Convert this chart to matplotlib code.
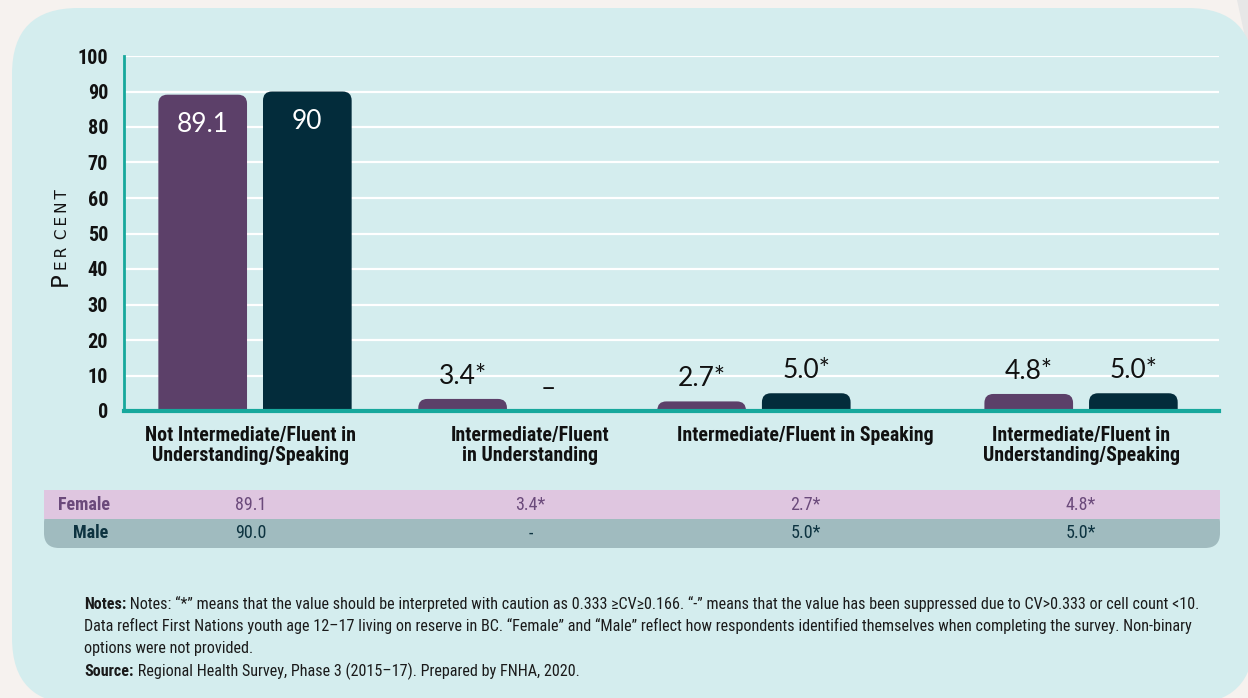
import os
import numpy as np
import matplotlib
matplotlib.use("Agg")
import matplotlib.pyplot as plt
import matplotlib.font_manager as fm
from matplotlib.patches import FancyBboxPatch, Rectangle, Polygon
from matplotlib.transforms import IdentityTransform

# ---------------- data ----------------
categories = [
    "Not Intermediate/Fluent in\nUnderstanding/Speaking",
    "Intermediate/Fluent\nin Understanding",
    "Intermediate/Fluent in Speaking",
    "Intermediate/Fluent in\nUnderstanding/Speaking",
]
female = [89.1, 3.4, 2.7, 4.8]
male = [90.0, np.nan, 5.0, 5.0]
female_bar_labels = ["89.1", "3.4*", "2.7*", "4.8*"]
male_bar_labels = ["90", "\u2013", "5.0*", "5.0*"]
table_female = ["89.1", "3.4*", "2.7*", "4.8*"]
table_male = ["90.0", "-", "5.0*", "5.0*"]
yticks = list(range(0, 101, 10))

# ---------------- fonts ----------------
files = {os.path.basename(f.fname).lower(): f.fname for f in fm.fontManager.ttflist}


def pick(cands):
    for c in cands:
        for k, v in files.items():
            if k.startswith(c.lower()):
                return v
    return None


reg_file = pick(["LiberationSansNarrow-Regular", "RobotoCondensed-Regular", "NotoSans-Condensed.",
                 "NotoSans-CondensedRegular", "OpenSans_Condensed-Regular", "OpenSansCondensed-Regular",
                 "DejaVuSansCondensed."])
bold_file = pick(["LiberationSansNarrow-Bold.", "RobotoCondensed-Bold.", "NotoSans-CondensedBold.",
                  "OpenSans_Condensed-Bold.", "OpenSansCondensed-Bold.", "DejaVuSansCondensed-Bold."])
SC = 1.0
if reg_file is None or bold_file is None:
    SC = 0.86


def nfont(size, bold=False):
    f = bold_file if bold else reg_file
    if f is not None:
        return fm.FontProperties(fname=f, size=size * SC)
    return fm.FontProperties(family=["Roboto", "DejaVu Sans"], size=size * SC,
                             weight="bold" if bold else "normal")


# ---------------- style ----------------
W, H = 1248, 698
BG = "#f6f2ef"
PANEL = "#d4edee"
FEM = "#5c4069"
MAL = "#032c3b"
TEAL = "#17a89c"
FEM_ROW = "#dfc6e0"
MAL_ROW = "#a0bbbf"
FEM_TXT = "#6b4a7b"
MAL_TXT = "#0d3340"
GEO = ["Lato", "DejaVu Sans"]

fig = plt.figure(figsize=(W / 100, H / 100), dpi=100)
fig.patch.set_facecolor(BG)
ident = IdentityTransform()


def py(y_top):
    return H - y_top


fig.patches.append(Polygon([(1237, py(0)), (1250, py(0)), (1250, py(60))],
                           closed=True, transform=ident, fc="#e7e7e7", ec="none", zorder=-5))
fig.patches.append(FancyBboxPatch((12, py(704)), 1242, 696,
                                  boxstyle="round,pad=0,rounding_size=66",
                                  transform=ident, fc=PANEL, ec="none", zorder=-4))
fig.patches.append(FancyBboxPatch((44, py(548)), 1176, 40,
                                  boxstyle="round,pad=0,rounding_size=15",
                                  transform=ident, fc=MAL_ROW, ec="none", zorder=-3))
fig.patches.append(Rectangle((44, py(519)), 1176, 29, transform=ident,
                             fc=FEM_ROW, ec="none", zorder=-2))

# ---------------- axes ----------------
ax_l, ax_r, ax_t, ax_b = 124, 1219, 56, 411
ax = fig.add_axes([ax_l / W, (H - ax_b) / H, (ax_r - ax_l) / W, (ax_b - ax_t) / H])
ax.set_facecolor("none")

xlim = (-0.4758, 3.501)
ax.set_xlim(*xlim)
ax.set_ylim(0, 100)

group_pos = np.array([0.0, 0.944, 1.812, 3.0])
label_pos = np.arange(len(categories)) + np.array([-0.015, 0.0, 0.0, 0.0])
bar_w = 0.322
off = 0.19

px_per_x = (ax_r - ax_l) / (xlim[1] - xlim[0])
px_per_y = (ax_b - ax_t) / 100.0
r_px = 9
rx = r_px / px_per_x
ry = r_px / px_per_y


def rbar(xc, h, color):
    below = 5.0
    p = FancyBboxPatch((xc - bar_w / 2, -below), bar_w, h + below,
                       boxstyle=f"round,pad=0,rounding_size={rx}",
                       mutation_aspect=ry / rx, fc=color, ec="none", zorder=2)
    ax.add_patch(p)


def vlabel(xc, h, text):
    if h > 50:
        ax.annotate(text, (xc, h), xytext=(0, -27), textcoords="offset points",
                    ha="center", va="baseline", color="white", fontsize=19,
                    family=GEO, zorder=4)
    else:
        ax.annotate(text, (xc, h), xytext=(0, 11), textcoords="offset points",
                    ha="center", va="baseline", color="#111111", fontsize=19,
                    family=GEO, zorder=4)


for i in range(len(categories)):
    xf = group_pos[i] - off
    xm = group_pos[i] + off
    rbar(xf, female[i], FEM)
    vlabel(xf, female[i], female_bar_labels[i])
    if np.isnan(male[i]):
        vlabel(xm - 0.07, 0.0, male_bar_labels[i])
    else:
        rbar(xm, male[i], MAL)
        vlabel(xm, male[i], male_bar_labels[i])

ax.set_yticks(yticks)
ax.set_yticklabels([str(t) for t in yticks], color="#111111")
for lab in ax.get_yticklabels():
    lab.set_fontproperties(nfont(14.5, True))
for t in yticks[1:]:
    ax.axhline(t, color="white", lw=1.6, zorder=1)
ax.tick_params(axis="y", length=0, pad=11.5)
ax.set_xticks([])
for s in ["top", "right"]:
    ax.spines[s].set_visible(False)
ax.spines["left"].set_color(TEAL)
ax.spines["left"].set_linewidth(2)
ax.spines["bottom"].set_color(TEAL)
ax.spines["bottom"].set_linewidth(3)
ax.spines["bottom"].set_zorder(5)
ax.spines["left"].set_zorder(5)

for i, c in enumerate(categories):
    ax.annotate(c, (label_pos[i], 0), xycoords=("data", "axes fraction"),
                xytext=(0, -11), textcoords="offset points", ha="center", va="top",
                fontproperties=nfont(14.3, True), color="#111111",
                linespacing=1.05, annotation_clip=False)

# y label "Per cent" in small caps
fig.text(67 / W, py(286) / H, "P", rotation=90, rotation_mode="anchor",
         ha="left", va="baseline", fontsize=16.5, family=["DejaVu Sans"], color="#111111")
fig.text(67 / W, py(270) / H, "E\u2009R\u2002C\u2009E\u2009N\u2009T", rotation=90,
         rotation_mode="anchor", ha="left", va="baseline", fontsize=11,
         family=["DejaVu Sans"], color="#111111")

# table text
fig.text(84 / W, py(504.5) / H, "Female", ha="center", va="center",
         fontproperties=nfont(13, True), color=FEM_TXT)
fig.text(91 / W, py(533.5) / H, "Male", ha="center", va="center",
         fontproperties=nfont(13, True), color=MAL_TXT)
for i in range(len(categories)):
    ax.annotate(table_female[i], (label_pos[i], py(504.5)),
                xycoords=("data", "figure pixels"), ha="center", va="center",
                fontproperties=nfont(13), color=FEM_TXT, annotation_clip=False)
    ax.annotate(table_male[i], (label_pos[i], py(533.5)),
                xycoords=("data", "figure pixels"), ha="center", va="center",
                fontproperties=nfont(13), color=MAL_TXT, annotation_clip=False)

# notes
note_size = 11.6
nx = 84
renderer = fig.canvas.get_renderer()


def note_line(y_base, bold, rest):
    x = nx
    if bold:
        t1 = fig.text(x / W, py(y_base) / H, bold, ha="left", va="baseline",
                      fontproperties=nfont(note_size, True), color="#1a1a1a")
        x = t1.get_window_extent(renderer).x1
    fig.text(x / W, py(y_base) / H, rest, ha="left", va="baseline",
             fontproperties=nfont(note_size), color="#1a1a1a")


note_line(609, "Notes:", " Notes: \u201c*\u201d means that the value should be interpreted with caution as "
          "0.333 \u2265CV\u22650.166. \u201c-\u201d means that the value has been suppressed due to "
          "CV>0.333 or cell count <10.")
note_line(631, None, "Data reflect First Nations youth age 12\u201317 living on reserve in BC. "
          "\u201cFemale\u201d and \u201cMale\u201d reflect how respondents identified themselves when "
          "completing the survey. Non-binary")
note_line(653, None, "options were not provided.")
note_line(676, "Source:", " Regional Health Survey, Phase 3 (2015\u201317). Prepared by FNHA, 2020.")

fig.savefig("out.png", dpi=100, facecolor=BG)
